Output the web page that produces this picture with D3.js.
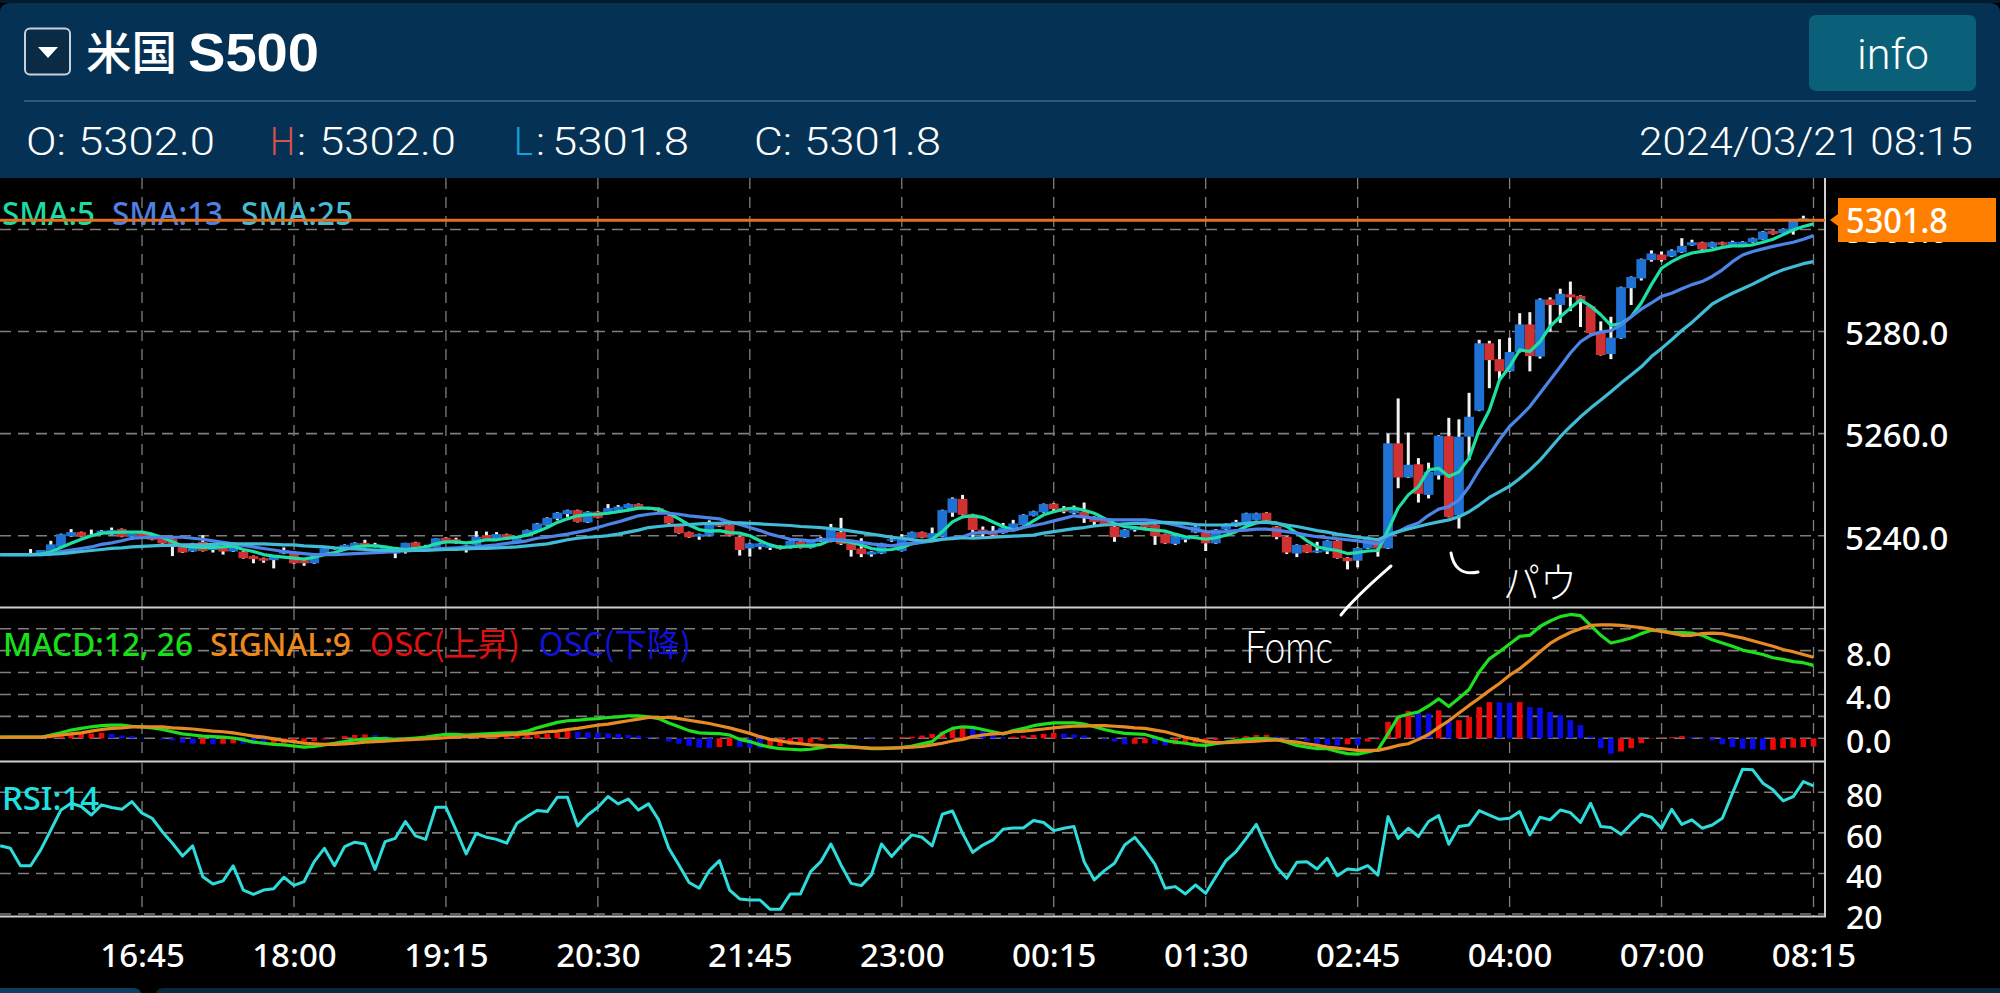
<!DOCTYPE html>
<html><head><meta charset="utf-8">
<script src="https://cdn.jsdelivr.net/npm/d3@7"></script>
<style>html,body{margin:0;padding:0;background:#000;overflow:hidden}svg{display:block}</style>
</head><body><svg id="c" width="2000" height="993"></svg>
<script>
const timeLabels=["16:45","18:00","19:15","20:30","21:45","23:00","00:15","01:30","02:45","04:00","07:00","08:15"];
const timeTickIndex=[14,29,44,59,74,89,104,119,134,149,164,179];
const priceTicks=[5240,5260,5280,5300];
const macdGrid=[0,2,4,6,8,10];
const macdLabels=[0,4,8];
const rsiTicks=[20,40,60,80];
const lastPrice=5301.8;
const opens=[5236.3,5236.4,5236.3,5236.4,5236.3,5236.7,5237.8,5239.9,5240.7,5239.9,
5240.3,5240.2,5241.3,5239.8,5240.5,5240,5239.8,5239.4,5238.2,5236.9,
5238.8,5237.2,5237.8,5236.9,5236.9,5236,5235.6,5235.2,5236.5,5236.5,
5235.2,5234.6,5236.5,5237.5,5237.2,5237.8,5238.6,5237.8,5237.2,5236.5,
5237,5238.7,5237.2,5237.8,5239.6,5239.3,5237.2,5238.2,5240.1,5239.2,
5240.3,5238.8,5240.1,5240.8,5242,5243.3,5244.2,5245,5242.6,5244.7,
5244.6,5244.9,5245.4,5246.2,5245.2,5245.4,5243.9,5242,5240.7,5239.8,
5240,5242.2,5242.1,5239.8,5237.5,5237.8,5237.6,5238,5237.6,5238.8,
5237.6,5239.2,5238.8,5240.7,5238.5,5237.5,5236.3,5236.5,5239,5237,
5239.5,5240.7,5239.5,5239.8,5244.5,5247.2,5244.2,5241.2,5240.8,5240.5,
5241.1,5242.1,5243.9,5244.6,5246.3,5245.4,5244.4,5244.7,5243.7,5243.1,
5241.8,5239.7,5241.1,5242.1,5242.1,5240.3,5238.4,5239.2,5240.6,5240.6,
5238.5,5241.2,5241.8,5242.5,5243.1,5244.5,5241.8,5239.8,5236.5,5238.2,
5236.7,5236.9,5239,5235.7,5235.1,5237.5,5239.2,5237.5,5258.1,5251.4,
5254,5248,5251.8,5259.5,5244,5259.4,5264.5,5277.7,5274.6,5272.2,
5276,5281.4,5275.1,5286.3,5285.2,5287.3,5287,5285,5280,5275.6,
5278.7,5288.5,5290.4,5294,5295.1,5294.7,5295.5,5296.9,5297.5,5296.5,
5297.5,5296.8,5297,5297.5,5298,5299.7,5299.3,5300,5301.9,5302];
const closes=[5236.4,5236.3,5236.4,5236.6,5237.2,5238.3,5240.3,5240.7,5239.8,5240.2,
5241,5241.1,5239.8,5240.4,5239.5,5239.2,5238.5,5237.8,5236.7,5238.5,
5237,5238.2,5236.9,5238.2,5235.6,5235.4,5235.1,5235.9,5237.2,5234.6,
5234.6,5235.7,5237.5,5237.7,5238.2,5238.6,5237.8,5238.3,5237.6,5237.2,
5238.6,5237.6,5237.9,5239.5,5238.8,5238.5,5238.1,5239.8,5239.2,5240.3,
5239.3,5239.5,5241.1,5242.4,5243.5,5244.5,5245,5242.7,5244.7,5243.5,
5245.4,5245.7,5246.2,5245.5,5245.5,5244.8,5242.4,5240.5,5239.7,5240.3,
5242.2,5241.8,5240,5237.2,5238.5,5238.5,5238.2,5237.4,5239,5237.6,
5238.8,5239.6,5241.1,5238.4,5237.2,5236.4,5236.9,5238.5,5239.3,5239.8,
5240.7,5239.6,5240.5,5245,5247.3,5244.1,5241.1,5240.3,5240.1,5241.6,
5242.4,5244.1,5244.8,5246.2,5245.2,5244.7,5245,5243.6,5242.7,5242.3,
5239.7,5241.2,5241.8,5241.6,5239.9,5238.5,5239.9,5239.7,5241.8,5238.5,
5241.2,5242.1,5242.7,5244.4,5244.4,5242.9,5239.7,5236.7,5238.2,5236.7,
5237.1,5239,5235.6,5235,5237.6,5239.5,5237.5,5258.1,5251.4,5253.9,
5248.2,5252.5,5259.6,5243.7,5259.4,5263.3,5277.7,5274.4,5272.2,5276,
5281.4,5275.2,5286.3,5285.2,5287.4,5286.7,5285.9,5279.7,5275.4,5278.8,
5288.7,5290.7,5294.2,5295.3,5294,5295.9,5296.8,5297.5,5296.1,5297.5,
5297,5297.6,5297.6,5298.3,5299.6,5299.1,5300.1,5301.8,5302.2,5301.8];
const highs=[5236.5,5236.5,5236.5,5237.4,5237.2,5239,5240.4,5241.3,5240.8,5241.2,
5241.1,5241.6,5241.4,5240.4,5240.6,5240.1,5239.9,5239.5,5238.3,5238.6,
5240.1,5238.3,5237.9,5238.4,5237,5236.1,5235.7,5235.9,5237.7,5237,
5235.3,5235.8,5237.5,5237.8,5238.3,5238.7,5239.2,5238.6,5237.7,5237.3,
5238.6,5238.8,5238.2,5239.5,5239.7,5239.6,5238.2,5240.9,5240.8,5240.7,
5240.4,5239.5,5241.2,5242.5,5243.6,5244.6,5245.1,5245.1,5244.8,5244.8,
5246.2,5246,5246.3,5246.3,5245.6,5245.5,5244,5242.1,5240.8,5240.4,
5243,5242.3,5242.2,5239.9,5238.6,5238.6,5238.3,5238.1,5239.1,5238.9,
5238.9,5239.8,5242.3,5243.5,5238.6,5239.5,5237,5238.6,5239.5,5240.3,
5240.8,5240.8,5241.6,5245.1,5247.5,5248,5244.3,5241.8,5241.9,5242.5,
5243.1,5244.2,5244.9,5246.3,5246.4,5245.8,5245.9,5246.5,5243.8,5243.2,
5241.9,5241.3,5241.9,5242.2,5242.2,5240.4,5240,5239.8,5242.2,5241,
5241.3,5242.4,5243.1,5244.5,5244.5,5244.6,5241.9,5239.9,5238.3,5238.3,
5238.8,5239.1,5239.1,5235.8,5237.7,5239.8,5239.3,5260,5266.9,5260.2,
5255.2,5254.3,5259.7,5263.1,5262.8,5268,5278.4,5278.2,5278.5,5278.8,
5283.6,5283.8,5286.5,5286.7,5288.4,5289.8,5287.1,5285.2,5282,5282.9,
5288.8,5290.8,5294.3,5295.9,5295.7,5296.1,5298.3,5298,5297.6,5297.6,
5297.6,5297.8,5297.7,5298.4,5299.7,5299.8,5300.2,5301.9,5302.7,5302];
const lows=[5236.2,5236.2,5236.2,5236.3,5236.2,5236.6,5237.6,5239.8,5239.7,5239.8,
5240.2,5240.1,5239.7,5239.2,5239.4,5239.1,5238.4,5236,5236.6,5236.8,
5236.9,5236.7,5236.3,5236.8,5235.5,5234.6,5234.7,5233.6,5236.4,5234.5,
5234.1,5234.5,5236.4,5237.3,5237.1,5237.7,5237.7,5237.7,5237.1,5235.6,
5236.5,5237.5,5237.1,5237.7,5238.7,5238.4,5236.7,5238.1,5239.1,5239.1,
5239.2,5238.7,5240,5240.7,5241.9,5243,5243.7,5242.6,5242.5,5243.4,
5244.5,5244.5,5245.3,5245.4,5245.1,5244.7,5242.3,5240.4,5239.6,5239.2,
5239.9,5241.7,5239.9,5236.1,5235.9,5237.3,5237.2,5237.3,5237.5,5237.5,
5237.5,5238.8,5238.7,5238.2,5235.9,5235.8,5235.9,5236.4,5238.8,5236.9,
5239.4,5239.5,5239.4,5239.7,5243.7,5244,5239.7,5239.7,5239.9,5240.4,
5241,5242,5243.8,5244.5,5244.7,5244.4,5244.2,5242.5,5242.1,5242.2,
5238.8,5239.6,5240.8,5241.5,5238.2,5238.4,5238.2,5238.7,5240.5,5237,
5238.4,5241.1,5241.7,5242.4,5243,5242.8,5239.3,5236.4,5235.8,5236.6,
5236.6,5236.4,5235.5,5233.4,5233.8,5237.4,5235.9,5237.4,5249.3,5251.3,
5246.5,5247.3,5251,5243.6,5241.4,5254.8,5264.4,5268.9,5270.6,5272.1,
5275.9,5272.2,5274.7,5280,5281.7,5284,5280.9,5279.6,5275.3,5274.6,
5278.6,5285.2,5290,5293.7,5293.7,5294.6,5295.4,5296.8,5296,5296.4,
5296.9,5296.7,5296.9,5297.4,5297.9,5299,5299.2,5299,5301.8,5301.8];
const sma5=[5236.3,5236.3,5236.3,5236.3,5236.4,5236.8,5237.7,5238.5,5239.3,5240,
5240.5,5240.6,5240.7,5240.7,5240.7,5240.3,5239.7,5238.8,5238,5237.8,
5237.7,5237.7,5237.8,5238,5237.3,5236.9,5236.3,5236,5235.8,5235.6,
5235.4,5235.8,5236.3,5236.7,5237.3,5237.8,5238,5238,5237.8,5237.5,
5237.3,5237.5,5237.8,5238.4,5238.8,5238.8,5238.6,5238.8,5239.2,5239.2,
5239.5,5239.7,5240.1,5240.8,5241.6,5242.6,5243.3,5243.9,5244.1,5244.2,
5244.4,5244.7,5245,5245.4,5245.4,5245.2,5244.4,5243.3,5242.1,5241.2,
5240.9,5241,5240.6,5240.5,5240,5239,5238.2,5237.7,5237.8,5238,
5238,5238.3,5239.2,5239,5238.7,5238.2,5237.5,5237.2,5237.3,5237.7,
5238.4,5238.8,5239.3,5240.8,5242.7,5243.7,5243.9,5243.6,5242.7,5241.8,
5241.1,5241.6,5242.9,5244.1,5244.7,5245.2,5245.4,5245,5244.4,5243.4,
5242.4,5241.8,5241.6,5241.3,5241.1,5240.9,5240.3,5239.8,5239.6,5239.3,
5239.6,5240.1,5240.8,5241.8,5242.5,5242.7,5242.5,5241.8,5240.5,5239,
5237.8,5237.4,5237.1,5236.5,5236.7,5237,5237.1,5241.1,5245.4,5248,
5249.6,5252.9,5253.2,5251.6,5252.5,5255.2,5260.7,5264.6,5270.5,5273.1,
5276.4,5276.1,5278,5281,5282.9,5284.6,5286.2,5285,5283.3,5281.2,
5281.5,5282.9,5285.6,5289.2,5292.4,5293.7,5294.7,5295.4,5295.7,5296,
5296.5,5296.8,5296.8,5297,5297.5,5298.1,5299,5299.9,5300.6,5301.1];
const sma13=[5236.3,5236.3,5236.3,5236.3,5236.3,5236.4,5236.9,5237.2,5237.5,5237.8,
5238.3,5238.6,5239,5239.5,5239.6,5239.7,5239.7,5239.7,5239.7,5239.5,
5239.3,5239,5238.7,5238.4,5238.1,5237.8,5237.5,5237.2,5236.9,5236.7,
5236.5,5236.3,5236.3,5236.3,5236.4,5236.5,5236.6,5236.7,5236.8,5236.9,
5237,5237.1,5237.3,5237.4,5237.5,5237.6,5237.7,5237.8,5238,5238.2,
5238.5,5238.7,5239,5239.5,5239.7,5240,5240.3,5240.7,5241.1,5241.6,
5242.2,5242.7,5243.3,5243.9,5244.2,5244.4,5244.4,5244.2,5243.9,5243.7,
5243.5,5243.3,5242.7,5242.2,5241.6,5241,5240.3,5239.8,5239.3,5239.2,
5239,5239.2,5239.2,5239.2,5239,5238.7,5238.4,5238.2,5238,5238.3,
5238.5,5238.7,5239,5239.3,5239.6,5239.8,5240.5,5240.6,5240.7,5241,
5241.1,5241.6,5242,5242.4,5242.9,5243.4,5243.9,5243.7,5243.4,5243.2,
5243.1,5243.1,5243.1,5243.1,5242.9,5242.5,5242.1,5241.6,5241.2,5240.8,
5240.7,5240.8,5241,5241.1,5241.3,5241.3,5241.1,5240.8,5240.5,5240.1,
5239.8,5239.6,5239.4,5239.2,5239,5238.7,5238.4,5240.1,5240.8,5241.8,
5242.5,5244,5245.2,5245.7,5247,5249.6,5252.9,5255.8,5258.8,5261.4,
5263.3,5265.3,5267.9,5270.5,5273.1,5275.8,5278,5279.3,5279.9,5280.2,
5281.3,5282.9,5284.4,5285.6,5286.9,5287.5,5288.4,5289.2,5289.8,5290.8,
5292.1,5293.7,5295,5295.7,5296.2,5296.7,5297.1,5297.5,5298.1,5298.8];
const sma25=[5236.3,5236.3,5236.3,5236.3,5236.3,5236.4,5236.5,5236.7,5236.9,5237.1,
5237.3,5237.5,5237.6,5237.8,5237.9,5238,5238.1,5238.1,5238.2,5238.2,
5238.2,5238.3,5238.4,5238.4,5238.4,5238.4,5238.4,5238.3,5238.2,5238.2,
5238,5237.9,5237.8,5237.6,5237.5,5237.4,5237.3,5237.2,5237.1,5237.1,
5237.1,5237.1,5237.1,5237.2,5237.3,5237.3,5237.4,5237.5,5237.5,5237.6,
5237.7,5237.8,5238,5238.2,5238.4,5238.8,5239.2,5239.5,5239.7,5239.8,
5240,5240.3,5240.7,5241.1,5241.6,5241.8,5242,5242.1,5242.2,5242.3,
5242.4,5242.4,5242.5,5242.5,5242.4,5242.3,5242.2,5242.1,5242,5241.8,
5241.7,5241.6,5241.4,5241.2,5240.9,5240.6,5240.3,5240,5239.7,5239.5,
5239.2,5239,5239,5239.3,5239.4,5239.6,5239.5,5239.6,5239.7,5239.8,
5239.9,5240,5240.1,5240.5,5240.8,5241.1,5241.4,5241.6,5241.9,5242.1,
5242.2,5242.3,5242.4,5242.4,5242.5,5242.6,5242.5,5242.4,5242.2,5242.1,
5242.1,5242.1,5242.2,5242.4,5242.6,5242.6,5242.4,5242.1,5241.8,5241.4,
5241,5240.7,5240.3,5240,5239.7,5239.5,5239.2,5240.1,5240.8,5241.3,
5241.8,5242.3,5242.7,5243.1,5243.7,5244.7,5246,5247.5,5248.6,5249.7,
5251.2,5252.9,5254.8,5257.1,5259.4,5261.4,5263.3,5265,5266.6,5268.2,
5269.9,5271.5,5273.1,5275.1,5276.7,5278.4,5280.2,5281.8,5283.6,5285.4,
5286.5,5287.5,5288.4,5289.3,5290.3,5291.3,5292.1,5292.7,5293.3,5293.7];
const macd=[.1,.1,.1,.1,.1,.3,.5,.75,.9,1.05,
1.15,1.2,1.2,1.1,1.05,.95,.8,.6,.4,.3,
.2,.15,.1,.03,-.15,-.35,-.45,-.55,-.6,-.7,
-.8,-.75,-.6,-.45,-.3,-.15,-.1,-.03,-.03,-.1,
-.05,.03,.1,.25,.35,.35,.3,.35,.4,.45,
.5,.5,.65,.95,1.2,1.45,1.6,1.65,1.75,1.8,
1.9,1.95,2.05,2.05,1.95,1.8,1.4,1.05,.7,.5,
.45,.42,.3,-.1,-.3,-.6,-.8,-.95,-1,-1.05,
-1,-.85,-.7,-.65,-.75,-.85,-.95,-.95,-.9,-.85,
-.7,-.5,-.3,.45,.9,1.05,1,.8,.6,.4,
.7,.9,1.15,1.3,1.4,1.4,1.4,1.3,1.05,.8,
.6,.45,.4,.35,.1,-.2,-.35,-.45,-.6,-.65,
-.5,-.35,-.2,-.1,-.03,-.03,-.1,-.35,-.65,-.8,
-.95,-.95,-1.2,-1.4,-1.45,-1.25,-1.05,.4,1.95,2.2,
2.4,2.95,3.6,2.9,3.65,4.45,6.05,7.25,7.9,8.6,
9.3,9.4,10.2,10.7,11.1,11.3,11.2,10.3,9.4,8.7,
8.9,9.15,9.55,9.85,9.8,9.65,9.65,9.6,9.4,9,
8.7,8.4,8.05,7.85,7.65,7.35,7.2,7,6.9,6.65];
const signal=[.1,.1,.1,.1,.1,.2,.3,.4,.5,.65,
.8,.9,.95,1.05,1.05,1.05,1.05,.95,.9,.85,
.75,.65,.6,.5,.35,.2,.1,-.05,-.2,-.3,
-.45,-.5,-.55,-.55,-.5,-.45,-.35,-.3,-.25,-.2,
-.15,-.1,-.05,0,.05,.1,.15,.2,.2,.25,
.3,.35,.4,.5,.6,.65,.8,.9,1.05,1.2,
1.3,1.45,1.6,1.75,1.9,1.9,1.9,1.8,1.65,1.5,
1.35,1.15,.95,.7,.45,.15,-.1,-.25,-.4,-.5,
-.6,-.65,-.75,-.8,-.8,-.85,-.9,-.9,-.9,-.85,
-.8,-.75,-.6,-.45,-.25,-.1,.15,.3,.4,.45,
.6,.65,.75,.85,.95,1.05,1.1,1.1,1.15,1.15,
1.1,1.05,.95,.9,.75,.6,.35,.1,-.1,-.3,
-.4,-.4,-.35,-.3,-.25,-.2,-.15,-.25,-.35,-.5,
-.65,-.8,-.9,-1,-1.1,-1.1,-1.1,-.9,-.65,-.5,
-.1,.35,1,1.6,2.3,3,3.65,4.35,5,5.75,
6.35,7.1,7.9,8.65,9.2,9.65,10,10.3,10.35,10.35,
10.3,10.2,10.1,9.95,9.75,9.6,9.4,9.4,9.55,9.6,
9.55,9.35,9.15,8.9,8.65,8.4,8.1,7.9,7.65,7.4];
const osc=[0,0,0,0,.05,.1,.2,.3,.4,.42,
.5,.4,.25,.2,.05,0,-.1,-.2,-.4,-.5,
-.5,-.55,-.5,-.45,-.5,-.55,-.6,-.55,-.45,-.4,
-.35,-.25,-.1,.05,.2,.3,.35,.3,.2,.05,
.1,.1,.05,.1,.2,.15,.1,.12,.15,.18,
.2,.22,.28,.32,.4,.48,.7,.6,.55,.5,
.45,.4,.3,.25,.1,-.05,-.3,-.5,-.7,-.85,
-.9,-.8,-.7,-.8,-.85,-.9,-.85,-.7,-.6,-.55,
-.4,-.2,0,.02,-.02,-.03,-.05,-.02,.02,.1,
.15,.25,.4,.6,.85,1.05,.95,.7,.45,.1,
.15,.25,.3,.4,.5,.42,.35,.25,0,-.1,
-.3,-.55,-.5,-.45,-.5,-.65,-.55,-.5,-.4,-.3,
-.15,0,.1,.2,.3,.32,.15,.05,-.1,-.25,
-.5,-.6,-.65,-.55,-.6,-.3,-.1,1.5,2,2.5,
2.3,2.25,2.55,1.5,1.65,1.95,2.85,3.3,3.28,3.25,
3.3,2.85,2.8,2.4,2.1,1.65,1.2,.15,-.9,-1.4,
-1.2,-.9,-.45,-.05,.05,.1,.2,.1,-.05,-.2,
-.55,-.8,-.95,-1,-1.05,-1.05,-.9,-.85,-.8,-.75];
const rsi=[53.7,52.4,43.8,43.8,51.6,61.4,71.3,74.6,73,68.8,
73.8,72.5,71.6,75.4,69.7,67.2,60.6,54.9,48.6,53.6,
38.4,34.8,36.3,43.7,31.8,29.7,31.8,32.5,38.1,34.1,
36,45.8,52.4,43.8,53.2,55.4,54.5,42,55.7,57.3,
65.6,58.5,56.8,72.6,72.6,61.4,49.6,59.8,57.8,56.8,
54.9,64.7,68,71,70.5,77.6,77.6,63.4,68.8,72.6,
77.9,74.3,76.7,71.3,74.3,66.4,52.4,44.2,35.5,32.7,
41.4,46.3,31.8,27.4,26.9,26.9,22.3,22.3,29.9,29.9,
40.9,45.8,54.5,44.2,35.1,34,39.2,54.5,48.3,54,
59,57.8,53.6,69.2,70.8,59.8,50.4,54,56.5,61.8,
62.4,62.4,66.1,65.1,61.1,62.3,63.1,45.8,36.8,41.4,
45,54,57.8,51.6,44.5,32.7,33.5,29.9,34.3,30.2,
38.4,46.3,50.8,57.3,64.2,53.2,43,37.6,45.5,45.8,
42.2,47.5,38.9,42.2,41.7,43.8,39.2,68,57.3,62.3,
58.2,65.6,68.5,54.4,63.1,63.9,71,68.8,66.7,67.2,
70.5,59,67.7,66.4,71.3,70,65.1,74.6,63.1,62.6,
59.3,64.4,69.2,67.7,62.3,71.6,64.2,66.4,62.3,63.9,
67.2,79.5,91.4,91.1,84.5,81.2,75.8,77.9,85.3,83.2];

const idx=d3.range(opens.length);
const svg=d3.select('#c');
const x=d3.scaleLinear().domain([0,179]).range([0.2,1813.5]);
const yP=d3.scaleLinear().domain([5240,5300]).range([535.7,229.5]);
const yM=d3.scaleLinear().domain([0,10]).range([738.3,628.7]);
const yR=d3.scaleLinear().domain([20,80]).range([914,792.3]);
const sans='"Noto Sans","Liberation Sans",sans-serif';
const ui='Roboto,"Liberation Sans",sans-serif';
const cjk='"Noto Sans CJK JP","Noto Sans",sans-serif';
function t(g,px,py,s,o){o=o||{};const e=g.append('text').attr('x',px).attr('y',py).text(s)
 .attr('fill',o.fill||'#fff').attr('font-size',o.size||30).attr('font-family',o.font||sans)
 .attr('font-weight',o.weight||400).attr('text-anchor',o.anchor||'start');
 if(o.len)e.attr('textLength',o.len).attr('lengthAdjust','spacingAndGlyphs');return e;}

// chrome
svg.append('rect').attr('width',2000).attr('height',993).attr('fill','#000');
svg.append('rect').attr('width',2000).attr('height',3).attr('fill','#021c2c');
const hdr=svg.append('g');
hdr.append('path').attr('d','M0,178V13Q0,3 10,3H1990Q2000,3 2000,13V178Z').attr('fill','#053254');
hdr.append('rect').attr('x',25).attr('y',28.5).attr('width',45).attr('height',46).attr('rx',5)
 .attr('fill','#0a2a45').attr('stroke','#c6d2dc').attr('stroke-width',2);
hdr.append('path').attr('d','M38,47H58L48,58Z').attr('fill','#fff');
t(hdr,86,69,'米国',{font:cjk,size:46,weight:500,len:91});
t(hdr,188,71,'S500',{font:'"Liberation Sans",sans-serif',size:54,weight:700,len:131});
hdr.append('rect').attr('x',1809).attr('y',15).attr('width',167).attr('height',76).attr('rx',7).attr('fill','#0a6078');
t(hdr,1857,69,'info',{font:ui,size:42,weight:300,len:72});
hdr.append('rect').attr('x',24).attr('y',100).attr('width',1952).attr('height',2).attr('fill','#2e5a7c');
const rowY=155,rs={font:ui,size:39,weight:300};
t(hdr,26,rowY,'O:',{...rs,len:40});
t(hdr,78,rowY,'5302.0',{...rs,len:137});
t(hdr,270,rowY,'H',{...rs,fill:'#d9504c',len:25});
t(hdr,297,rowY,':',{...rs,len:9});
t(hdr,319,rowY,'5302.0',{...rs,len:137});
t(hdr,514,rowY,'L',{...rs,fill:'#14a3d8',len:19});
t(hdr,536,rowY,':',{...rs,len:9});
t(hdr,552,rowY,'5301.8',{...rs,len:137});
t(hdr,754,rowY,'C:',{...rs,len:38});
t(hdr,804,rowY,'5301.8',{...rs,len:137});
t(hdr,1639,rowY,'2024/03/21 08:15',{...rs,len:334});

// grid
const grid=svg.append('g').attr('fill','none').attr('stroke','#7e7e7e');
const gridV=[[178,607],[609,761],[763,916]];
gridV.forEach(r=>{grid.selectAll(null).data(timeTickIndex).join('line')
 .attr('x1',d=>x(d)).attr('x2',d=>x(d)).attr('y1',r[0]).attr('y2',r[1])
 .attr('stroke-width',1.3).attr('stroke-dasharray','11 8');});
function hgrid(vals,sc){grid.selectAll(null).data(vals).join('line').attr('x1',0).attr('x2',1825)
 .attr('y1',d=>sc(d)).attr('y2',d=>sc(d)).attr('stroke-width',1.6).attr('stroke-dasharray','11 7');}
hgrid(priceTicks,yP);hgrid(macdGrid,yM);hgrid(rsiTicks,yR);

// legends
const lg=svg.append('g');
t(lg,2,225,'SMA:5',{fill:'#1cdca4',size:33,weight:500,len:93});
t(lg,112,225,'SMA:13',{fill:'#4f80e4',size:33,weight:500,len:111});
t(lg,241,225,'SMA:25',{fill:'#45bcd4',size:33,weight:500,len:112});
t(lg,3,656,'MACD:12, 26',{fill:'#18e018',size:33,weight:500,len:190});
t(lg,210,656,'SIGNAL:9',{fill:'#ec8a1c',size:33,weight:500,len:141});
t(lg,370,656,'OSC(上昇)',{fill:'#e01010',size:32,font:cjk,len:150});
t(lg,539,656,'OSC(下降)',{fill:'#1212d8',size:32,font:cjk,len:152});
t(lg,2,810,'RSI:14',{fill:'#22e0e0',size:33,weight:500,len:97});

// candles
const cg=svg.append('g');
cg.selectAll('.w').data(idx).join('line').attr('class','w')
 .attr('x1',i=>x(i)).attr('x2',i=>x(i)).attr('y1',i=>yP(highs[i])).attr('y2',i=>yP(lows[i]))
 .attr('stroke','#f2f2f2').attr('stroke-width',3);
cg.selectAll('.b').data(idx).join('rect').attr('class','b')
 .attr('x',i=>x(i)-4.9).attr('width',9.8)
 .attr('y',i=>yP(Math.max(opens[i],closes[i])))
 .attr('height',i=>Math.max(1.5,Math.abs(yP(opens[i])-yP(closes[i]))))
 .attr('fill',i=>closes[i]>=opens[i]?'#1f72d4':'#d03232');

const lineOf=(arr,sc)=>d3.line().x((d,i)=>x(i)).y(d=>sc(d))(arr);
const path=(d,c,w)=>svg.append('path').attr('d',d).attr('fill','none').attr('stroke',c).attr('stroke-width',w).attr('stroke-linejoin','round');
path(lineOf(sma5,yP),'#1fe0a4',3.2);
path(lineOf(sma13,yP),'#4c84e8',3.2);
path(lineOf(sma25,yP),'#40bcd6',3.2);

// MACD
svg.append('g').selectAll('rect').data(idx).join('rect')
 .attr('x',i=>x(i)-2.8).attr('width',5.6)
 .attr('y',i=>Math.min(yM(0),yM(osc[i])))
 .attr('height',i=>Math.abs(yM(osc[i])-yM(0)))
 .attr('fill',i=>(i>0&&osc[i]>=osc[i-1])?'#f00808':'#0a0ae6');
path(lineOf(macd,yM),'#1ee01e',3.2);
path(lineOf(signal,yM),'#e88a24',3.2);
// RSI
path(lineOf(rsi,yR),'#2fdcdc',3);

// frame
const fr=svg.append('g').attr('stroke','#cfcfcf').attr('stroke-width',2);
fr.append('line').attr('x1',0).attr('x2',1826).attr('y1',607.5).attr('y2',607.5);
fr.append('line').attr('x1',0).attr('x2',1826).attr('y1',761.5).attr('y2',761.5);
fr.append('line').attr('x1',0).attr('x2',1826).attr('y1',916.5).attr('y2',916.5);
fr.append('line').attr('x1',1825).attr('x2',1825).attr('y1',178).attr('y2',917);
// last price line
svg.append('line').attr('x1',0).attr('x2',1825).attr('y1',yP(lastPrice)).attr('y2',yP(lastPrice))
 .attr('stroke','#e4701c').attr('stroke-width',3);

// axes
function styleAxis(g,dy,size){g.select('.domain').remove();g.selectAll('.tick line').remove();
 g.selectAll('text').attr('fill','#fff').attr('font-size',size).attr('font-weight',500).attr('font-family',sans).attr('dy',dy).attr('x',0).attr('text-anchor','start');}
svg.append('g').attr('transform','translate(1845,0)')
 .call(d3.axisRight(yP).tickValues(priceTicks).tickFormat(d3.format('.1f')))
 .call(g=>styleAxis(g,13.3,33));
svg.append('g').attr('transform','translate(1846,0)')
 .call(d3.axisRight(yM).tickValues(macdLabels).tickFormat(d3.format('.1f')))
 .call(g=>styleAxis(g,14.5,32));
svg.append('g').attr('transform','translate(1846,0)')
 .call(d3.axisRight(yR).tickValues(rsiTicks).tickFormat(d3.format('d')))
 .call(g=>styleAxis(g,14.5,32));
svg.append('g').attr('transform','translate(0,967)')
 .call(d3.axisBottom(x).tickValues(timeTickIndex).tickFormat((d,i)=>timeLabels[i]))
 .call(g=>{g.select('.domain').remove();g.selectAll('.tick line').remove();
  g.selectAll('text').attr('fill','#fff').attr('font-size',33).attr('font-weight',500).attr('font-family',sans).attr('y',0).attr('dy',0).attr('text-anchor','middle');});

// last price tag
const tag=svg.append('g');
tag.append('path').attr('d','M1838,198H1996V242H1838V226L1830,220L1838,214Z').attr('fill','#ff7f00');
t(tag,1846,233,d3.format('.1f')(lastPrice),{size:34,weight:500,len:102});

// handwriting
const hw=svg.append('g').attr('fill','none').attr('stroke','#fff').attr('stroke-width',3).attr('stroke-linecap','round');
hw.append('path').attr('d','M1391,566C1375,580 1355,597 1341,615');
hw.append('path').attr('d','M1451,553C1453,565 1460,576 1478,572');
t(svg,1245,663,'Fomc',{font:'Lato,sans-serif',size:46,weight:300,len:88});
t(svg,1503,598,'パウ',{font:cjk,size:42,weight:300,len:74});

// bottom bar
svg.append('path').attr('d','M0,993V988H132Q140,988 141,993Z').attr('fill','#0b3f60');
svg.append('path').attr('d','M156,993Q157,988 164,988H2000V993Z').attr('fill','#06293c');
</script></body></html>
